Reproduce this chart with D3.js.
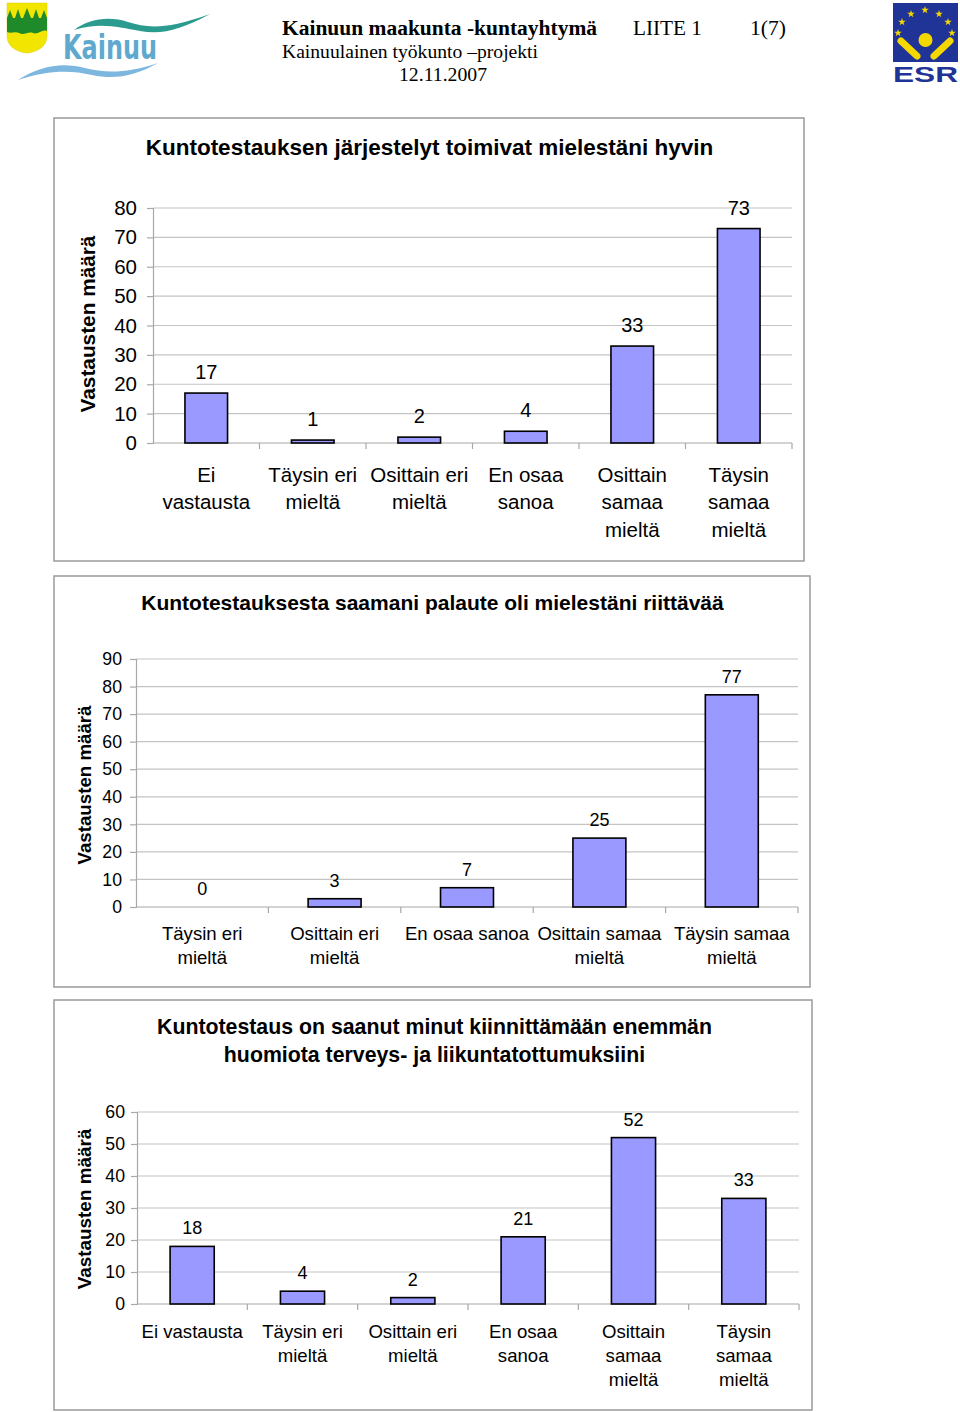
<!DOCTYPE html>
<html><head><meta charset="utf-8">
<script src="https://cdn.jsdelivr.net/npm/d3@7"></script>
<style>
html,body{margin:0;padding:0;background:#fff;}
svg{display:block;}
</style></head>
<body>
<svg id="c" width="960" height="1412"></svg>
<script>
// ---------- DATA ----------
const headerBold = "Kainuun maakunta -kuntayhtymä";
const headerLiite = "LIITE 1";
const headerPage = "1(7)";
const headerSub = "Kainuulainen työkunto –projekti";
const headerDate = "12.11.2007";
const yAxisTitle = "Vastausten määrä";

const title1 = ["Kuntotestauksen järjestelyt toimivat mielestäni hyvin"];
const cats1 = ["Ei vastausta","Täysin eri mieltä","Osittain eri mieltä","En osaa sanoa","Osittain samaa mieltä","Täysin samaa mieltä"];
const catLines1 = [["Ei","vastausta"],["Täysin eri","mieltä"],["Osittain eri","mieltä"],["En osaa","sanoa"],["Osittain","samaa","mieltä"],["Täysin","samaa","mieltä"]];
const vals1 = [17,1,2,4,33,73];
const ticks1 = [0,10,20,30,40,50,60,70,80];

const title2 = ["Kuntotestauksesta saamani palaute oli mielestäni riittävää"];
const cats2 = ["Täysin eri mieltä","Osittain eri mieltä","En osaa sanoa","Osittain samaa mieltä","Täysin samaa mieltä"];
const catLines2 = [["Täysin eri","mieltä"],["Osittain eri","mieltä"],["En osaa sanoa"],["Osittain samaa","mieltä"],["Täysin samaa","mieltä"]];
const vals2 = [0,3,7,25,77];
const ticks2 = [0,10,20,30,40,50,60,70,80,90];

const title3 = ["Kuntotestaus on saanut minut kiinnittämään enemmän","huomiota terveys- ja liikuntatottumuksiini"];
const cats3 = ["Ei vastausta","Täysin eri mieltä","Osittain eri mieltä","En osaa sanoa","Osittain samaa mieltä","Täysin samaa mieltä"];
const catLines3 = [["Ei vastausta"],["Täysin eri","mieltä"],["Osittain eri","mieltä"],["En osaa","sanoa"],["Osittain","samaa","mieltä"],["Täysin","samaa","mieltä"]];
const vals3 = [18,4,2,21,52,33];
const ticks3 = [0,10,20,30,40,50,60];

// ---------- DRAW ----------
const svg = d3.select("#c");
const SANS = "Liberation Sans, Arial, sans-serif";
const SERIF = "Liberation Serif, Times New Roman, serif";

// Header text
const hdr = svg.append("g").attr("font-family", SERIF).attr("fill", "#000");
hdr.append("text").attr("x", 282).attr("y", 35).attr("font-size", 20.5).attr("font-weight", "bold")
  .attr("textLength", 315).attr("lengthAdjust", "spacingAndGlyphs").text(headerBold);
hdr.append("text").attr("x", 633).attr("y", 35).attr("font-size", 20.5)
  .attr("textLength", 69).attr("lengthAdjust", "spacingAndGlyphs").text(headerLiite);
hdr.append("text").attr("x", 750).attr("y", 35).attr("font-size", 20.5)
  .attr("textLength", 36).attr("lengthAdjust", "spacingAndGlyphs").text(headerPage);
hdr.append("text").attr("x", 282).attr("y", 58).attr("font-size", 19)
  .attr("textLength", 256).attr("lengthAdjust", "spacingAndGlyphs").text(headerSub);
hdr.append("text").attr("x", 399).attr("y", 81).attr("font-size", 19)
  .attr("textLength", 88).attr("lengthAdjust", "spacingAndGlyphs").text(headerDate);

// Kainuu logo
const kl = svg.append("g");
kl.append("path").attr("d", "M7,3 L47,3 L47,36 C47,46 38,52 27,53 C16,52 7,46 7,36 Z").attr("fill", "#f2e600").attr("stroke", "#d8cc00").attr("stroke-width", 0.5);
kl.append("path").attr("d", "M7,18 L10,10 L13,18 L15,18 L18,9 L21,18 L23,18 L27,8 L31,18 L33,18 L36,9 L39,18 L41,18 L44,10 L47,18 L47,31 C42,29 38,35 33,33 C28,31 24,36 19,33 C15,31 11,34 7,32 Z").attr("fill", "#1f8a2a");
kl.append("path").attr("d", "M74,30 C90,18 110,16 128,22 C148,28 165,30 210,14 C180,30 162,35 140,31 C118,27 100,22 74,30 Z").attr("fill", "#2b9a8f");
kl.append("text").attr("x", 63).attr("y", 59).attr("font-family", "DejaVu Sans, sans-serif").attr("font-size", 34).attr("font-weight", "bold").attr("fill", "#5fa9cf").attr("textLength", 94).attr("lengthAdjust", "spacingAndGlyphs").text("Kainuu");
kl.append("path").attr("d", "M18,80 C40,66 62,62 85,68 C105,73 125,74 158,63 C135,76 115,80 92,75 C70,70 48,70 18,80 Z").attr("fill", "#7db6df");

// ESR logo
const el = svg.append("g");
el.append("rect").attr("x", 893).attr("y", 3).attr("width", 65).attr("height", 59).attr("fill", "#1f3496");
const starPath = d3.symbol().type(d3.symbolStar).size(18)();
const starPos = [[898,33],[902,22],[911,14],[925,10],[939,14],[948,22],[952,33]];
el.selectAll("path.star").data(starPos).join("path").attr("class","star").attr("d", starPath).attr("transform", d => `translate(${d[0]},${d[1]})`).attr("fill", "#f5d800");
el.append("circle").attr("cx", 925.5).attr("cy", 40).attr("r", 7).attr("fill", "#f5d800");
el.append("line").attr("x1", 901).attr("y1", 41).attr("x2", 917).attr("y2", 56).attr("stroke", "#f5d800").attr("stroke-width", 7).attr("stroke-linecap", "round");
el.append("line").attr("x1", 950).attr("y1", 41).attr("x2", 934).attr("y2", 56).attr("stroke", "#f5d800").attr("stroke-width", 7).attr("stroke-linecap", "round");
el.append("text").attr("x", 925.5).attr("y", 82).attr("text-anchor", "middle").attr("font-family", SANS).attr("font-weight", "bold").attr("font-size", 22).attr("fill", "#1f3496").attr("textLength", 65).attr("lengthAdjust", "spacingAndGlyphs").text("ESR");

function drawChart(cfg) {
  const g = svg.append("g").attr("font-family", SANS);
  const b = cfg.box;
  g.append("rect").attr("x", b.x).attr("y", b.y).attr("width", b.w).attr("height", b.h)
    .attr("fill", "#fff").attr("stroke", "#9a9a9a").attr("stroke-width", 1.5);

  // title
  cfg.title.forEach((t, i) => {
    g.append("text").attr("x", cfg.titleX).attr("y", cfg.titleY[i]).attr("dy", "0.35em")
      .attr("text-anchor", "middle").attr("font-weight", "bold").attr("font-size", cfg.titleFont).text(t);
  });

  const x = d3.scaleBand().domain(cfg.cats).range([cfg.x0, cfg.x1]).paddingInner(0.6).paddingOuter(0.3);
  const y = d3.scaleLinear().domain([0, d3.max(cfg.ticks)]).range([cfg.yBot, cfg.yTop]);
  const step = x.step();

  // gridlines
  g.append("g").selectAll("line").data(cfg.ticks.filter(d => d > 0)).join("line")
    .attr("x1", cfg.x0).attr("x2", cfg.x1).attr("y1", d => y(d)).attr("y2", d => y(d))
    .attr("stroke", "#c4c4c4").attr("stroke-width", 1.2);

  // y axis
  const ya = g.append("g").attr("transform", `translate(${cfg.x0},0)`)
    .call(d3.axisLeft(y).tickValues(cfg.ticks).tickSize(6).tickPadding(cfg.tickPad).tickFormat(d3.format("d")));
  ya.select(".domain").attr("stroke", "#a8a8a8").attr("stroke-width", 1.2);
  ya.selectAll(".tick line").attr("stroke", "#a8a8a8").attr("stroke-width", 1.2);
  ya.selectAll(".tick text").attr("font-family", SANS).attr("font-size", cfg.tickFont).attr("fill", "#000");

  // x axis baseline and boundary ticks
  g.append("line").attr("x1", cfg.x0).attr("x2", cfg.x1).attr("y1", cfg.yBot).attr("y2", cfg.yBot)
    .attr("stroke", "#a8a8a8").attr("stroke-width", 1.2);
  const bounds = cfg.cats.map(c => x(c) + x.bandwidth() / 2 + step / 2);
  g.append("g").selectAll("line").data(bounds).join("line")
    .attr("x1", d => d).attr("x2", d => d).attr("y1", cfg.yBot).attr("y2", cfg.yBot + 6)
    .attr("stroke", "#a8a8a8").attr("stroke-width", 1.2);

  // bars
  const data = cfg.cats.map((c, i) => ({c, v: cfg.vals[i], lines: cfg.catLines[i]}));
  g.append("g").selectAll("rect").data(data.filter(d => d.v > 0)).join("rect")
    .attr("x", d => x(d.c)).attr("width", x.bandwidth())
    .attr("y", d => y(d.v)).attr("height", d => y(0) - y(d.v))
    .attr("fill", "#9999ff").attr("stroke", "#000").attr("stroke-width", 1.6);

  // value labels
  g.append("g").selectAll("text").data(data).join("text")
    .attr("x", d => x(d.c) + x.bandwidth() / 2).attr("y", d => y(d.v) - cfg.labelGap)
    .attr("text-anchor", "middle").attr("font-size", cfg.labelFont).text(d => d.v);

  // category labels
  const cg = g.append("g").selectAll("text").data(data).join("text")
    .attr("text-anchor", "middle").attr("font-size", cfg.catFont);
  cg.each(function(d) {
    const t = d3.select(this);
    d.lines.forEach((ln, i) => {
      t.append("tspan").attr("x", x(d.c) + x.bandwidth() / 2).attr("y", cfg.catY[i]).attr("dy", "0.35em").text(ln);
    });
  });

  // y title
  g.append("text").attr("transform", `translate(${cfg.ytX},${cfg.ytY}) rotate(-90)`).attr("dy", "0.35em")
    .attr("text-anchor", "middle").attr("font-weight", "bold").attr("font-size", cfg.ytFont).text(yAxisTitle);
}

drawChart({
  box: {x: 54, y: 118, w: 750, h: 443},
  title: title1, titleX: 429.5, titleY: [147], titleFont: 22.5,
  cats: cats1, catLines: catLines1, vals: vals1, ticks: ticks1,
  x0: 153, x1: 792, yTop: 208, yBot: 443,
  tickFont: 20.5, tickPad: 10, labelFont: 20, labelGap: 14,
  catFont: 20.5, catY: [475, 502, 530],
  ytX: 88, ytY: 324, ytFont: 20.8
});

drawChart({
  box: {x: 54, y: 576, w: 756, h: 411},
  title: title2, titleX: 432.5, titleY: [603], titleFont: 21,
  cats: cats2, catLines: catLines2, vals: vals2, ticks: ticks2,
  x0: 136, x1: 798, yTop: 659, yBot: 907,
  tickFont: 17.7, tickPad: 8, labelFont: 18, labelGap: 12,
  catFont: 18.6, catY: [933, 957],
  ytX: 84, ytY: 785, ytFont: 18.7
});

drawChart({
  box: {x: 54, y: 1000, w: 758, h: 410},
  title: title3, titleX: 434.5, titleY: [1027, 1055], titleFont: 21.3,
  cats: cats3, catLines: catLines3, vals: vals3, ticks: ticks3,
  x0: 137, x1: 799, yTop: 1112, yBot: 1304,
  tickFont: 17.7, tickPad: 6, labelFont: 18, labelGap: 12,
  catFont: 18.6, catY: [1331, 1355, 1379],
  ytX: 84, ytY: 1209, ytFont: 18.9
});
</script>
</body></html>
